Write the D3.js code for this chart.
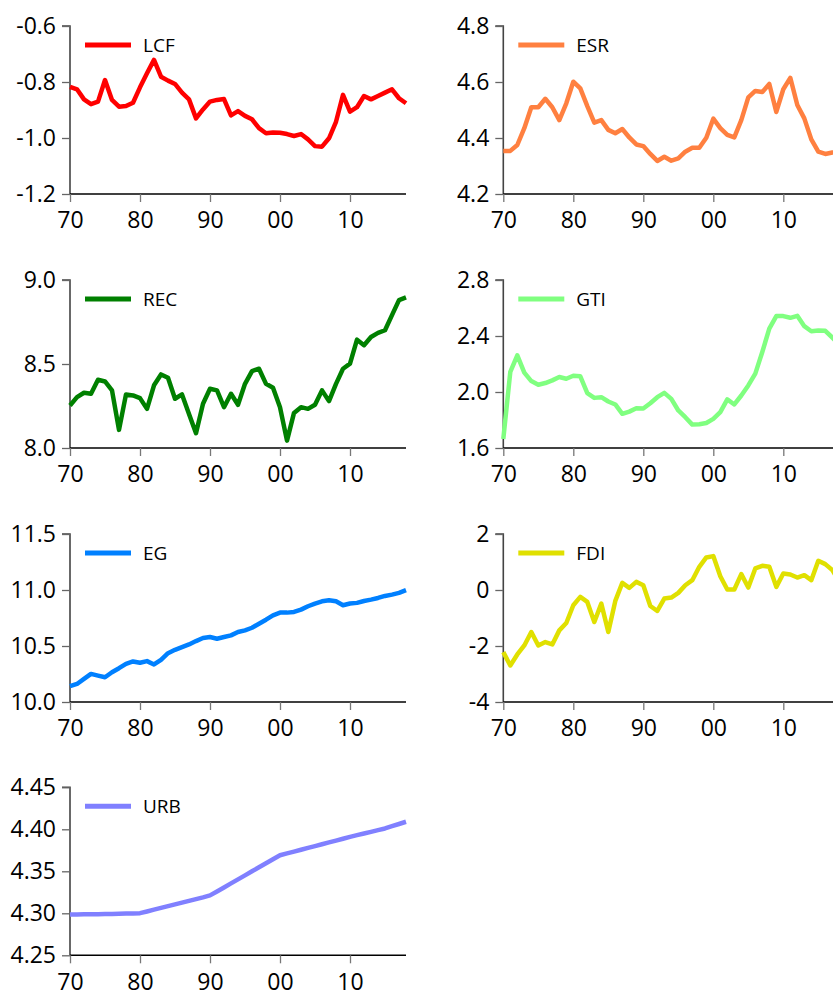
<!DOCTYPE html>
<html>
<head>
<meta charset="utf-8">
<script src="https://cdn.jsdelivr.net/npm/d3@7"></script>
<style>
  html, body { margin: 0; padding: 0; background: #fff; overflow: hidden; }
  svg { display: block; }
  text { font-family: "Open Sans", "Noto Sans", sans-serif; fill: #000; }
</style>
</head>
<body>
<svg id="chart" width="833" height="990"></svg>
<script>
// ---- data ----
const years = d3.range(1970, 2019);
const xTickYears = [1970, 1980, 1990, 2000, 2010];
const xTickLabels = ["70", "80", "90", "00", "10"];

const LCF = [-0.817,-0.826,-0.862,-0.879,-0.870,-0.793,-0.864,-0.888,-0.886,-0.874,
             -0.819,-0.769,-0.721,-0.781,-0.795,-0.807,-0.838,-0.862,-0.930,-0.898,
             -0.870,-0.864,-0.861,-0.919,-0.904,-0.921,-0.933,-0.965,-0.983,-0.980,
             -0.981,-0.986,-0.993,-0.986,-1.005,-1.029,-1.031,-1.001,-0.942,-0.846,
             -0.906,-0.890,-0.850,-0.862,-0.850,-0.838,-0.826,-0.858,-0.876];
const ESR = [4.354,4.354,4.375,4.435,4.510,4.510,4.540,4.510,4.464,4.524,
             4.601,4.577,4.514,4.455,4.464,4.429,4.417,4.432,4.402,4.377,
             4.371,4.343,4.318,4.333,4.319,4.327,4.351,4.365,4.365,4.401,
             4.469,4.435,4.411,4.402,4.464,4.545,4.568,4.564,4.593,4.493,
             4.574,4.615,4.518,4.470,4.395,4.351,4.343,4.348,4.350];
const REC = [8.253,8.303,8.329,8.323,8.406,8.396,8.343,8.108,8.319,8.313,
             8.297,8.233,8.373,8.438,8.418,8.293,8.319,8.203,8.088,8.263,
             8.353,8.343,8.243,8.323,8.257,8.382,8.458,8.472,8.382,8.359,
             8.243,8.044,8.209,8.243,8.233,8.257,8.343,8.279,8.382,8.472,
             8.502,8.645,8.612,8.661,8.685,8.701,8.791,8.880,8.896];
const GTI = [1.664,2.143,2.262,2.138,2.078,2.052,2.064,2.083,2.107,2.095,
             2.116,2.112,1.992,1.958,1.963,1.932,1.911,1.844,1.860,1.884,
             1.882,1.920,1.963,1.994,1.951,1.868,1.820,1.767,1.770,1.779,
             1.808,1.856,1.947,1.911,1.975,2.047,2.131,2.286,2.453,2.542,
             2.542,2.530,2.544,2.470,2.434,2.439,2.437,2.389,2.340];
const EG  = [10.141,10.161,10.206,10.251,10.236,10.221,10.266,10.302,10.341,10.362,
             10.350,10.365,10.335,10.377,10.436,10.466,10.490,10.514,10.544,10.571,
             10.580,10.565,10.580,10.595,10.625,10.640,10.663,10.699,10.735,10.774,
             10.798,10.798,10.804,10.825,10.855,10.879,10.899,10.908,10.899,10.864,
             10.879,10.885,10.902,10.914,10.929,10.947,10.959,10.974,10.998];
const FDI = [-2.219,-2.697,-2.303,-1.980,-1.502,-1.980,-1.860,-1.944,-1.442,-1.179,
             -0.546,-0.247,-0.426,-1.143,-0.486,-1.502,-0.390,0.255,0.076,0.291,
             0.171,-0.570,-0.749,-0.307,-0.271,-0.103,0.171,0.351,0.829,1.163,
             1.211,0.494,0.016,0.016,0.566,0.088,0.769,0.865,0.829,0.112,
             0.590,0.554,0.446,0.530,0.351,1.044,0.924,0.709,0.300];
const URB = [4.2986,4.2987,4.2988,4.2989,4.2990,4.2991,4.2993,4.2995,4.2997,4.2999,
             4.3002,4.3022,4.3043,4.3064,4.3085,4.3106,4.3127,4.3148,4.3169,4.3190,
             4.3213,4.3260,4.3308,4.3356,4.3404,4.3452,4.3500,4.3548,4.3596,4.3644,
             4.3691,4.3713,4.3735,4.3757,4.3779,4.3800,4.3822,4.3844,4.3866,4.3888,
             4.3910,4.3930,4.3950,4.3970,4.3990,4.4010,4.4037,4.4063,4.4090];

const panels = [
  {name:"LCF", values:LCF, domain:[-1.2,-0.6], ticks:[-1.2,-1.0,-0.8,-0.6], fmt:".1f", color:"#FF0000", col:0, row:0},
  {name:"ESR", values:ESR, domain:[4.2,4.8], ticks:[4.2,4.4,4.6,4.8], fmt:".1f", color:"#FF8040", col:1, row:0},
  {name:"REC", values:REC, domain:[8.0,9.0], ticks:[8.0,8.5,9.0], fmt:".1f", color:"#008000", col:0, row:1},
  {name:"GTI", values:GTI, domain:[1.6,2.8], ticks:[1.6,2.0,2.4,2.8], fmt:".1f", color:"#80FF80", col:1, row:1},
  {name:"EG",  values:EG,  domain:[10.0,11.5], ticks:[10.0,10.5,11.0,11.5], fmt:".1f", color:"#0080FF", col:0, row:2},
  {name:"FDI", values:FDI, domain:[-4,2], ticks:[-4,-2,0,2], fmt:"d", color:"#E0E000", col:1, row:2},
  {name:"URB", values:URB, domain:[4.25,4.45], ticks:[4.25,4.30,4.35,4.40,4.45], fmt:".2f", color:"#8080FF", col:0, row:3}
];

// ---- layout ----
const colX = [70, 503.3];
const rowTop = [26, 280, 534, 787.3];
const plotW = 336, plotH = 168;

const svg = d3.select("#chart");

panels.forEach(p => {
  const x0 = colX[p.col], y0 = rowTop[p.row];
  const x = d3.scaleLinear().domain([1970, 2018]).range([x0, x0 + plotW]);
  const y = d3.scaleLinear().domain(p.domain).range([y0 + plotH, y0]);
  const g = svg.append("g");
  const fmt = d3.format(p.fmt);

  // y axis
  const yAx = g.append("g").attr("transform", `translate(${x0},0)`)
    .call(d3.axisLeft(y).tickValues(p.ticks).tickSize(8).tickPadding(6)
      .tickFormat(v => fmt(v).replace("\u2212", "-")));
  yAx.select(".domain").attr("stroke", "#444").attr("stroke-width", 1.6)
    .attr("d", `M-8,${y(p.domain[1])}H0V${y(p.domain[0])}`);
  yAx.selectAll(".tick line").attr("stroke", "#666").attr("stroke-width", 1.3);
  yAx.selectAll(".tick text").attr("font-size", 23).attr("font-family", "Open Sans").attr("fill", "#000");

  // x axis
  const xAx = g.append("g").attr("transform", `translate(0,${y0 + plotH})`)
    .call(d3.axisBottom(x).tickValues(xTickYears).tickSize(8).tickPadding(10)
      .tickFormat((v, i) => xTickLabels[i]));
  xAx.select(".domain").attr("stroke", "#000").attr("stroke-width", 1.4)
    .attr("d", `M${x0},0H${x0 + plotW}`);
  xAx.selectAll(".tick line").attr("stroke", "#777").attr("stroke-width", 1.3);
  xAx.selectAll(".tick text").attr("font-size", 23).attr("font-family", "Open Sans").attr("fill", "#000");

  // line
  const line = d3.line().x((d, i) => x(years[i])).y(d => y(d));
  g.append("path").datum(p.values)
    .attr("d", line)
    .attr("fill", "none")
    .attr("stroke", p.color)
    .attr("stroke-width", 4.5)
    .attr("stroke-linejoin", "round");

  // legend
  g.append("line")
    .attr("x1", x0 + 15).attr("x2", x0 + 61)
    .attr("y1", y0 + 19).attr("y2", y0 + 19)
    .attr("stroke", p.color).attr("stroke-width", 5);
  g.append("text")
    .attr("x", x0 + 73).attr("y", y0 + 26)
    .attr("font-size", 19)
    .text(p.name);
});
</script>
</body>
</html>
